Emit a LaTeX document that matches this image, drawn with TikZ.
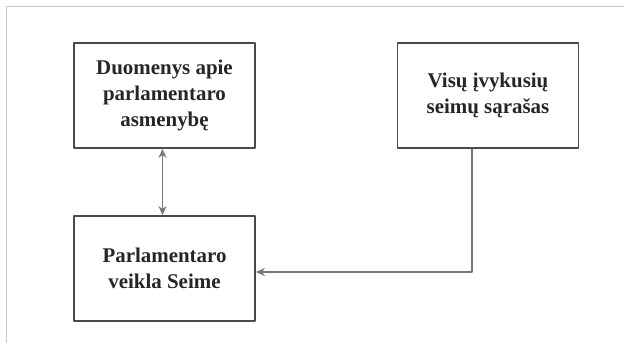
\documentclass[tikz,border=0pt]{standalone}
\usepackage{fontspec}
\setmainfont{Liberation Serif}
\usepackage{xcolor}
\usetikzlibrary{arrows.meta,positioning}
\definecolor{boxgray}{HTML}{4A4A4A}
\definecolor{linegray}{HTML}{777777}
\definecolor{framegray}{HTML}{C8C8C8}
\tikzset{
  every picture/.style={line join=round, >=Stealth},
  box/.style={draw=boxgray, line width=1.8bp, align=center, text=black!85,
    minimum width=181bp, minimum height=105bp, inner sep=0pt,
    font=\bfseries\fontsize{21}{26}\selectfont},
  link/.style={draw=linegray, line width=1.8bp, arrows={-Stealth[length=9bp,width=8bp]}},
}

\begin{document}
\begin{tikzpicture}[x=1bp,y=1bp]
\useasboundingbox (0,0) rectangle (624,343);
\draw[framegray, line width=1bp] (6,0) -- (6,336) -- (624,336);
\node[box] (duom) at (164.5,247.5) {Duomenys apie\\parlamentaro\\asmenybę};
\node[box] (seimai) at (488,247.5) {Visų įvykusių\\seimų sąrašas};
\node[box] (veikla) at (164.5,74.5) {Parlamentaro\\veikla Seime};
\coordinate (bend) at (472,71);
\draw[link, arrows={Stealth[length=9bp,width=8bp]-Stealth[length=9bp,width=8bp]}]
  ([xshift=-2bp]duom.south) -- ([xshift=-2bp]veikla.north);
\draw[link] (seimai.south -| bend) -- (bend) -- (veikla.east |- bend);
\end{tikzpicture}
\end{document}
